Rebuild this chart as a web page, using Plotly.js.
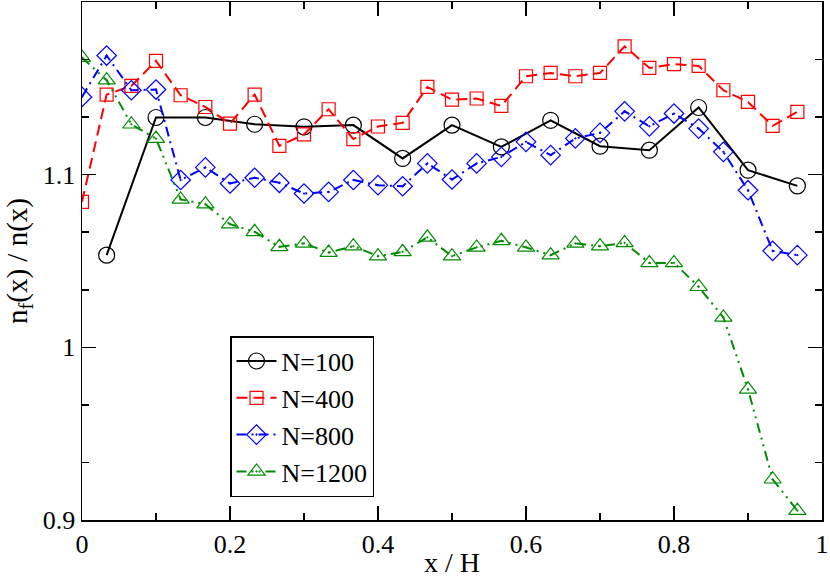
<!DOCTYPE html>
<html>
<head>
<meta charset="utf-8">
<script src="https://cdn.plot.ly/plotly-3.0.1.min.js"></script>
<style>html,body{margin:0;padding:0;background:#fff;}#plot{width:830px;height:578px;}</style>
</head>
<body>
<div id="plot"></div>
<script>
// x positions (x / H)
const x100 = [0.0333,0.1,0.1667,0.2333,0.3,0.3667,0.4333,0.5,0.5667,0.6333,0.7,0.7667,0.8333,0.9,0.9667];
const x30 = [0,0.0333,0.0667,0.1,0.1333,0.1667,0.2,0.2333,0.2667,0.3,0.3333,0.3667,0.4,0.4333,0.4667,0.5,0.5333,0.5667,0.6,0.6333,0.6667,0.7,0.7333,0.7667,0.8,0.8333,0.8667,0.9,0.9333,0.9667];

const y100 = [1.0534,1.1331,1.1331,1.1292,1.1277,1.1287,1.1094,1.1287,1.1161,1.1315,1.1165,1.1142,1.1389,1.1026,1.0935];
const y400 = [1.0843,1.1464,1.1514,1.1659,1.1460,1.1392,1.1296,1.1464,1.1167,1.1233,1.1379,1.1206,1.1279,1.1300,1.1508,1.1435,1.1441,1.1398,1.1570,1.1589,1.1570,1.1589,1.1743,1.1618,1.1640,1.1630,1.1489,1.1421,1.1283,1.1364];
const y800 = [1.1450,1.1690,1.1489,1.1493,1.0969,1.1042,1.0949,1.0982,1.0953,1.0891,1.0900,1.0969,1.0939,1.0933,1.1065,1.0972,1.1065,1.1103,1.1190,1.1113,1.1210,1.1242,1.1367,1.1280,1.1354,1.1267,1.1132,1.0910,1.0559,1.0534];
const y1200 = [1.1678,1.1547,1.1292,1.1209,1.0857,1.0829,1.0713,1.0669,1.0582,1.0602,1.0549,1.0586,1.0528,1.0553,1.0637,1.0528,1.0579,1.0617,1.0579,1.0534,1.0602,1.0586,1.0605,1.0489,1.0489,1.0351,1.0173,0.9757,0.9236,0.9054];

const seriesNames = ["N=100","N=400","N=800","N=1200"];
const xTickVals = [0,0.2,0.4,0.6,0.8,1];
const xTickText = ["0","0.2","0.4","0.6","0.8","1"];
const xMinorVals = [0.1,0.3,0.5,0.7,0.9];
const yTickVals = [0.9,1,1.1];
const yTickText = ["0.9","1","1.1"];
const yMinorVals = [0.9333,0.9667,1.0333,1.0667,1.1333,1.1667];

const font = "Liberation Serif";

const traces = [
  {x:x100, y:y100, name:seriesNames[0], mode:"lines+markers",
   line:{color:"#000000", width:2},
   marker:{symbol:"circle-open", size:16, color:"#000000", line:{width:1.2}}},
  {x:x30, y:y400, name:seriesNames[1], mode:"lines+markers",
   line:{color:"#ff0000", width:2, dash:"11px,6px"},
   marker:{symbol:"square-open", size:13, color:"#ff0000", line:{width:1.2}}},
  {x:x30, y:y800, name:seriesNames[2], mode:"lines+markers",
   line:{color:"#0000ff", width:2, dash:"10px,5px,2px,5px"},
   marker:{symbol:"diamond-open-dot", size:15, color:"#0000ff", line:{width:1.2}}},
  {x:x30, y:y1200, name:seriesNames[3], mode:"lines+markers",
   line:{color:"#008c00", width:2, dash:"10px,5px,2px,5px,2px,5px"},
   marker:{symbol:"triangle-up-open-dot", size:15, color:"#008c00", line:{width:1.2}}}
];

const axisCommon = {
  showgrid:false, zeroline:false, showline:true, linecolor:"#000", linewidth:1.5,
  mirror:"ticks", ticks:"inside", ticklen:14, tickwidth:1.5, tickcolor:"#000",
  tickfont:{family:font, size:26, color:"#000"}
};

const layout = {
  width:830, height:578,
  margin:{l:82, r:8, t:2, b:58},
  paper_bgcolor:"#fff", plot_bgcolor:"#fff",
  font:{family:font, size:24, color:"#000"},
  xaxis:Object.assign({}, axisCommon, {
    range:[0,1], tickmode:"array", tickvals:xTickVals, ticktext:xTickText,
    minor:{tickmode:"array", tickvals:xMinorVals, ticks:"inside", ticklen:7, tickwidth:1.5, tickcolor:"#000"},
    title:{text:"x / H", font:{family:font, size:28, color:"#000"}, standoff:2}
  }),
  yaxis:Object.assign({}, axisCommon, {
    range:[0.9,1.2], tickmode:"array", tickvals:yTickVals, ticktext:yTickText,
    minor:{tickmode:"array", tickvals:yMinorVals, ticks:"inside", ticklen:7, tickwidth:1.5, tickcolor:"#000"},
    title:{text:"n<sub>f</sub>(x) / n(x)", font:{family:font, size:29, color:"#000"}, standoff:6}
  }),
  showlegend:true,
  legend:{x:0.2, y:0.355, xanchor:"left", yanchor:"top",
    bgcolor:"#fff", bordercolor:"#000", borderwidth:1.5,
    font:{family:font, size:26, color:"#000"}, tracegroupgap:0, itemwidth:40}
};

Plotly.newPlot("plot", traces, layout, {displayModeBar:false, staticPlot:true});
</script>
</body>
</html>
